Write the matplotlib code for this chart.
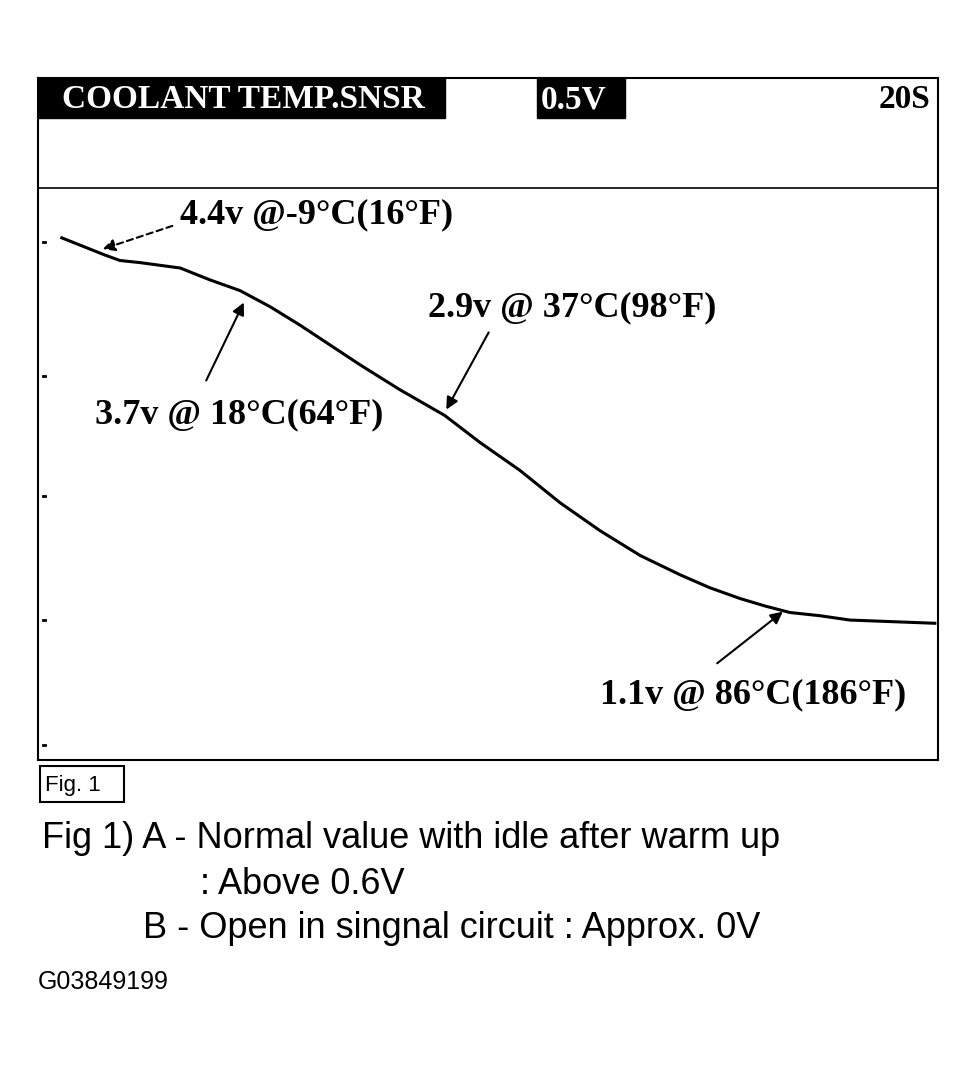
import matplotlib
matplotlib.use("Agg")
import matplotlib.pyplot as plt
from matplotlib.patches import Rectangle

time_s = [0.53, 1.49, 1.82, 2.27, 3.16, 3.82, 4.49, 5.16, 5.82, 7.16, 8.04, 9.04, 9.82, 10.71, 11.6,
          12.49, 13.38, 14.27, 14.93, 15.6, 16.16, 16.71, 17.38, 18.04, 19.93]
volts = [4.56, 4.40, 4.35, 4.33, 4.28, 4.17, 4.07, 3.92, 3.75, 3.38, 3.15, 2.91, 2.66, 2.40, 2.10,
         1.84, 1.61, 1.43, 1.31, 1.21, 1.14, 1.08, 1.05, 1.01, 0.98]
tick_v = [4.52, 3.28, 2.16, 1.01, -0.15]
labels = ["4.4v @-9°C(16°F)", "3.7v @ 18°C(64°F)", "2.9v @ 37°C(98°F)", "1.1v @ 86°C(186°F)"]

W, H = 978, 1066
fig = plt.figure(figsize=(W/100, H/100), dpi=100)
ax = fig.add_axes([38/W, 1-760/H, 900/W, 682/H])
ax.plot(time_s, volts, color="black", lw=2.2)
ax.set_xlim(0, 20)
ax.set_ylim(-0.29, 6.045)
ax.axhline(5.02, color="black", lw=1.2)
for s in ax.spines.values():
    s.set_linewidth(1.5)
ax.set_xticks([]); ax.set_yticks([])
for v in tick_v:
    ax.plot([0.1, 0.16], [v, v], color="black", lw=2)

def fp(x, y):
    return (x, H - y)

serif = dict(family="Liberation Serif", weight="bold", fontsize=26)
hdr = dict(family="Liberation Serif", weight="bold", fontsize=24)
fig.patches.append(Rectangle(fp(38, 118), 407, 40, transform=None, color="black"))
fig.patches.append(Rectangle(fp(537, 118), 88, 40, transform=None, color="black"))
fig.text(62/W, 1-100/H, "COOLANT TEMP.SNSR", color="white", va="center", **hdr)
fig.text(541/W, 1-100/H, "0.5V", color="white", va="center", **hdr)
fig.text(930/W, 1-100/H, "20S", color="black", va="center", ha="right", **hdr)

arr = dict(arrowstyle="-|>", color="black", lw=1.5, mutation_scale=18)
ann = [
    (labels[0], (180, 215), (175, 225), (100, 250)),
    (labels[1], (95, 415), (205, 383), (245, 300)),
    (labels[2], (428, 308), (490, 330), (445, 412)),
    (labels[3], (600, 695), (715, 665), (785, 610)),
]
for txt, tpos, a0, a1 in ann:
    fig.text(tpos[0]/W, 1-tpos[1]/H, txt, va="center", ha="left", **serif)
    d = dict(arr)
    if txt == labels[0]:
        d["linestyle"] = (0, (3, 2))
    ax.annotate("", xy=fp(*a1), xycoords="figure pixels", xytext=fp(*a0),
                textcoords="figure pixels", arrowprops=d)

fig.patches.append(Rectangle(fp(40, 802), 84, 36, transform=None, fill=False, ec="black", lw=1.5))
fig.text(45/W, 1-785/H, "Fig. 1", fontsize=16, family="Liberation Sans", va="center")
sans = dict(family="Liberation Sans", fontsize=26, va="center")
fig.text(42/W, 1-838/H, "Fig 1) A - Normal value with idle after warm up", **sans)
fig.text(200/W, 1-884/H, ": Above 0.6V", **sans)
fig.text(143/W, 1-928/H, "B - Open in singnal circuit : Approx. 0V", **sans)
fig.text(38/W, 1-982/H, "G03849199", family="Liberation Sans", fontsize=18, va="center")

fig.savefig("out.png", dpi=100)
